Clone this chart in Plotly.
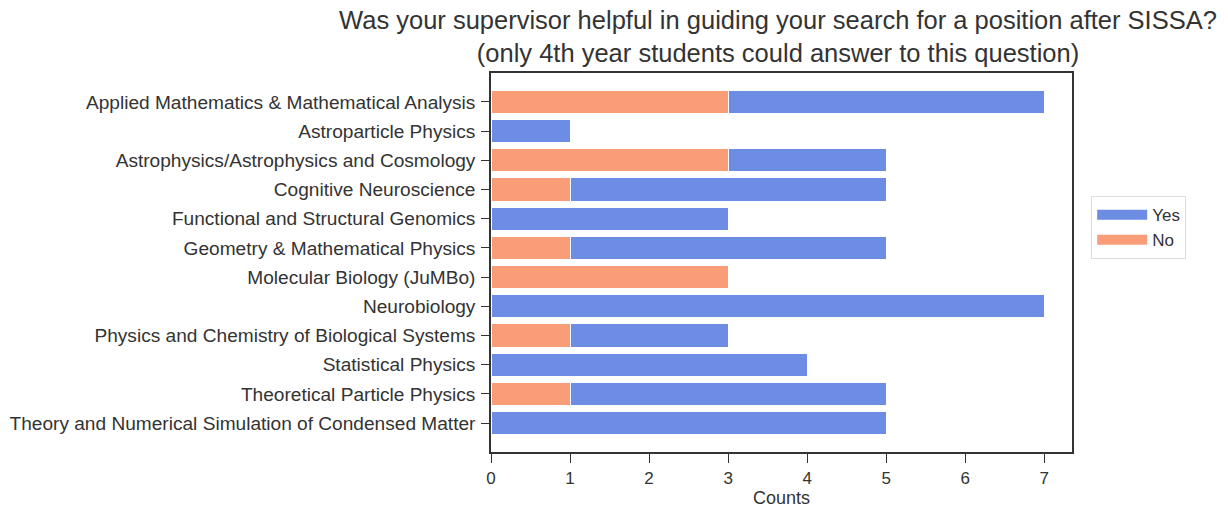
import plotly.graph_objects as go

categories = [
    "Applied Mathematics & Mathematical Analysis",
    "Astroparticle Physics",
    "Astrophysics/Astrophysics and Cosmology",
    "Cognitive Neuroscience",
    "Functional and Structural Genomics",
    "Geometry & Mathematical Physics",
    "Molecular Biology (JuMBo)",
    "Neurobiology",
    "Physics and Chemistry of Biological Systems",
    "Statistical Physics",
    "Theoretical Particle Physics",
    "Theory and Numerical Simulation of Condensed Matter",
]
yes_counts = [4, 1, 2, 4, 3, 4, 0, 7, 2, 4, 4, 5]
no_counts = [3, 0, 3, 1, 0, 1, 3, 0, 1, 0, 1, 0]
x_ticks = [0, 1, 2, 3, 4, 5, 6, 7]

BLUE = "#6c8de3"
ORANGE = "#f89d78"
FONT = "Liberation Sans, Arial, sans-serif"
TXT = "#333333"

fig = go.Figure()
fig.add_trace(go.Bar(
    y=categories, x=no_counts, orientation="h", name="No",
    marker=dict(color=ORANGE, line=dict(color="white", width=1)),
    showlegend=False,
))
fig.add_trace(go.Bar(
    y=categories, x=yes_counts, orientation="h", name="Yes",
    marker=dict(color=BLUE, line=dict(color="white", width=1)),
    showlegend=False,
))
# legend-only entries (wide rectangle swatches like the reference)
fig.add_trace(go.Scatter(x=[None], y=[None], mode="lines", name="Yes",
                         line=dict(color=BLUE, width=11)))
fig.add_trace(go.Scatter(x=[None], y=[None], mode="lines", name="No",
                         line=dict(color=ORANGE, width=11)))

fig.update_layout(
    width=1220, height=500,
    barmode="stack", bargap=0.2,
    plot_bgcolor="white", paper_bgcolor="white",
    font=dict(family=FONT, size=18, color=TXT),
    margin=dict(l=483, r=156, t=65, b=56, autoexpand=False),
    title=dict(
        text="Was your supervisor helpful in guiding your search for a position after SISSA?<br>(only 4th year students could answer to this question)",
        xref="paper", x=0.494, xanchor="center",
        yref="container", y=0.958, yanchor="middle",
        font=dict(size=25.5, color=TXT, family=FONT),
    ),
    legend=dict(
        x=1.033, y=0.592, xanchor="left", yanchor="middle",
        bordercolor="#dddddd", borderwidth=1,
        font=dict(size=17, color=TXT),
        itemwidth=50, traceorder="normal",
        tracegroupgap=0,
    ),
    showlegend=True,
)
fig.update_xaxes(
    range=[0, 7.35], tickvals=x_ticks, ticks="outside", ticklen=9, tickwidth=1.2,
    tickcolor=TXT, showline=True, linecolor=TXT, linewidth=1.5,
    mirror=True, showgrid=False, zeroline=False, automargin=True,
    tickfont=dict(size=17), ticklabelstandoff=1,
    title=dict(text="Counts", font=dict(size=18, color=TXT), standoff=10),
)
fig.update_yaxes(
    categoryorder="array", categoryarray=categories,
    range=[11.99, -0.99], ticks="outside", ticklen=8, tickwidth=1.2,
    tickcolor=TXT, showline=True, linecolor=TXT, linewidth=1.5,
    mirror=True, showgrid=False, zeroline=False, automargin=True,
    tickfont=dict(size=19.1), ticklabelstandoff=2,
)

fig.write_html("out.html")
